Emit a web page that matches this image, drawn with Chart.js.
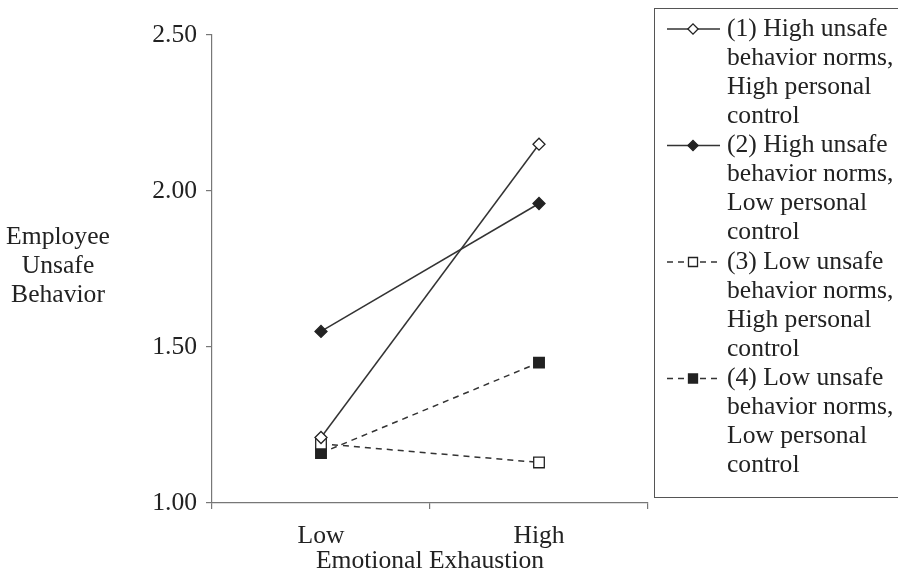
<!DOCTYPE html>
<html>
<head>
<meta charset="utf-8">
<script src="https://cdn.jsdelivr.net/npm/chart.js@4"></script>
<style>
html, body { margin: 0; padding: 0; background: #fff; }
#caja { width: 898px; height: 576px; position: relative; }
</style>
</head>
<body>
<div id="caja"><canvas id="grafica"></canvas></div>
<script>
// Datos
const categorias = ["Low", "High"];
const serie1 = [1.21, 2.15];
const serie2 = [1.55, 1.96];
const serie3 = [1.19, 1.13];
const serie4 = [1.16, 1.45];
const ticksY = [1.00, 1.50, 2.00, 2.50];
const nombres = [
    ["(1) High unsafe", "behavior norms,", "High personal", "control"],
    ["(2) High unsafe", "behavior norms,", "Low personal", "control"],
    ["(3) Low unsafe", "behavior norms,", "High personal", "control"],
    ["(4) Low unsafe", "behavior norms,", "Low personal", "control"]
];
const tituloX = "Emotional Exhaustion";
const tituloY = ["Employee", "Unsafe", "Behavior"];

const fuente = "Liberation Serif, Times New Roman, serif";
const tam = 25.6;
const tinta = "#222";
const gris = "#777";

function serie(nombre, datos, estilo, relleno, guiones, radio) {
    return {
        label: nombre.join(" "),
        data: datos,
        borderColor: "#333",
        borderWidth: 1.5,
        borderDash: guiones,
        tension: 0,
        fill: false,
        pointStyle: estilo,
        pointRadius: radio,
        pointBackgroundColor: relleno,
        pointBorderColor: "#222",
        pointBorderWidth: 1.3
    };
}

// Titulos y leyenda dibujados sobre el canvas
const extras = {
    id: "extras",
    afterDraw(chart) {
        const ctx = chart.ctx;
        const area = chart.chartArea;
        ctx.save();
        ctx.fillStyle = tinta;
        ctx.font = tam + "px " + fuente;
        ctx.textAlign = "center";
        ctx.textBaseline = "middle";
        tituloY.forEach((t, i) => ctx.fillText(t, 58, 237 + i * 29));
        ctx.fillText(tituloX, (area.left + area.right) / 2, 561);

        // caja de la leyenda
        ctx.strokeStyle = "#555";
        ctx.lineWidth = 1;
        ctx.strokeRect(654.5, 8.5, 260, 489);

        chart.data.datasets.forEach((ds, i) => {
            const y0 = 29 + i * 116.5;
            ctx.save();
            ctx.strokeStyle = ds.borderColor;
            ctx.lineWidth = ds.borderWidth;
            ctx.setLineDash(ds.borderDash || []);
            ctx.beginPath();
            ctx.moveTo(667, y0);
            ctx.lineTo(720, y0);
            ctx.stroke();
            ctx.setLineDash([]);
            ctx.fillStyle = ds.pointBackgroundColor;
            ctx.strokeStyle = ds.pointBorderColor;
            ctx.lineWidth = ds.pointBorderWidth;
            Chart.helpers.drawPoint(ctx, {
                pointStyle: ds.pointStyle,
                radius: ds.pointRadius * 0.85,
                rotation: 0,
                borderWidth: ds.pointBorderWidth
            }, 693, y0);
            ctx.restore();
            ctx.textAlign = "left";
            nombres[i].forEach((t, j) => ctx.fillText(t, 727, y0 + j * 29));
        });
        ctx.restore();
    }
};

new Chart(document.querySelector("#grafica"), {
    type: "line",
    data: {
        labels: categorias,
        datasets: [
            serie(nombres[0], serie1, "rectRot", "#fff", [], 6),
            serie(nombres[1], serie2, "rectRot", "#222", [], 6),
            serie(nombres[2], serie3, "rect", "#fff", [6, 5], 7.5),
            serie(nombres[3], serie4, "rect", "#222", [6, 5], 7.5)
        ]
    },
    options: {
        responsive: true,
        maintainAspectRatio: false,
        animation: false,
        layout: { padding: { left: 132, right: 250, top: 35, bottom: 0 } },
        plugins: { legend: { display: false }, tooltip: { enabled: false } },
        scales: {
            x: {
                offset: true,
                afterFit: s => { s.height = 73; },
                grid: { offset: true, drawOnChartArea: false, tickLength: 6, color: gris, lineWidth: 1.2 },
                border: { color: gris, width: 1.2 },
                ticks: { color: tinta, padding: 12, font: { family: fuente, size: tam } }
            },
            y: {
                min: 1,
                max: 2.5,
                afterFit: s => { s.width = 80; },
                afterBuildTicks: s => { s.ticks = ticksY.map(v => ({ value: v })); },
                grid: { drawOnChartArea: false, tickLength: 6, color: gris, lineWidth: 1.2 },
                border: { color: gris, width: 1.2 },
                ticks: {
                    color: tinta,
                    padding: 9,
                    font: { family: fuente, size: tam },
                    callback: v => Number(v).toFixed(2)
                }
            }
        }
    },
    plugins: [extras]
});
</script>
</body>
</html>
